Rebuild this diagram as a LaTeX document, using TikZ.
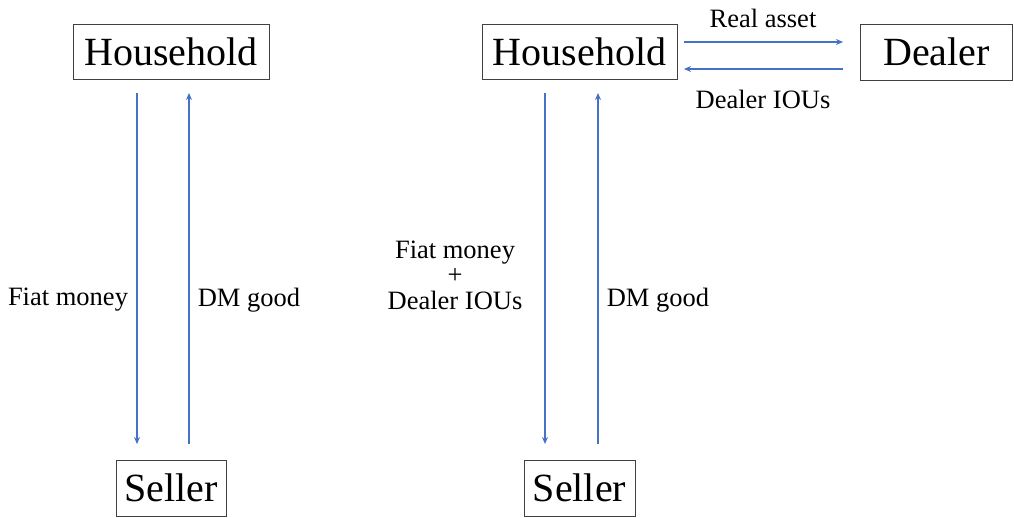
\documentclass[tikz,border=0pt]{standalone}
\usepackage{fontspec}
\setmainfont{Liberation Serif}
\usetikzlibrary{arrows.meta}
\begin{document}
\begin{tikzpicture}[x=1pt,y=-1pt,
  box/.style={draw=black!75, line width=0.8pt, inner sep=0pt, font=\fontsize{40}{44}\selectfont},
  flow/.style={draw={rgb,255:red,68;green,114;blue,196}, line width=1.5pt, -{Stealth[length=7pt,width=6pt]}},
  lab/.style={font=\fontsize{26.5}{25.5}\selectfont, inner sep=0pt, align=center}]
\useasboundingbox (0,0) rectangle (1014,518);
% boxes
\node[box, minimum width=196pt, minimum height=55pt] (h1) at (171,51.5) {Household};
\node[box, minimum width=110pt, minimum height=56pt] (s1) at (171,488) {Seller};
\node[box, minimum width=195pt, minimum height=55pt] (h2) at (579.5,51.5) {Household};
\node[box, minimum width=152pt, minimum height=56pt] (d) at (936.5,52) {Dealer};
\node[box, minimum width=111pt, minimum height=56pt] (s2) at (579.5,488) {Seller};
% coordinates for arrow ends
\coordinate (a1t) at (137,93); \coordinate (a1b) at (137,444);
\coordinate (b1t) at (189,93); \coordinate (b1b) at (189,444);
\coordinate (a2t) at (545,93); \coordinate (a2b) at (545,444);
\coordinate (b2t) at (598,93); \coordinate (b2b) at (598,444);
\coordinate (ra) at (684,42); \coordinate (rb) at (843,42);
\coordinate (da) at (843,69); \coordinate (db) at (684,69);
\draw[flow] (a1t) -- (a1b);
\draw[flow] (b1b) -- (b1t);
\draw[flow] (a2t) -- (a2b);
\draw[flow] (b2b) -- (b2t);
\draw[flow] (ra) -- (rb);
\draw[flow] (da) -- (db);
% labels
\node[lab] (l1) at (68,300) {Fiat money};
\node[lab] (l2) at (249,300) {DM good};
\node[lab] (l3) at (455,275) {Fiat money\\+\\Dealer IOUs};
\node[lab] (l4) at (658,300) {DM good};
\node[lab] (l5) at (763,18) {Real asset};
\node[lab] (l6) at (763,99) {Dealer IOUs};
\end{tikzpicture}
\end{document}
